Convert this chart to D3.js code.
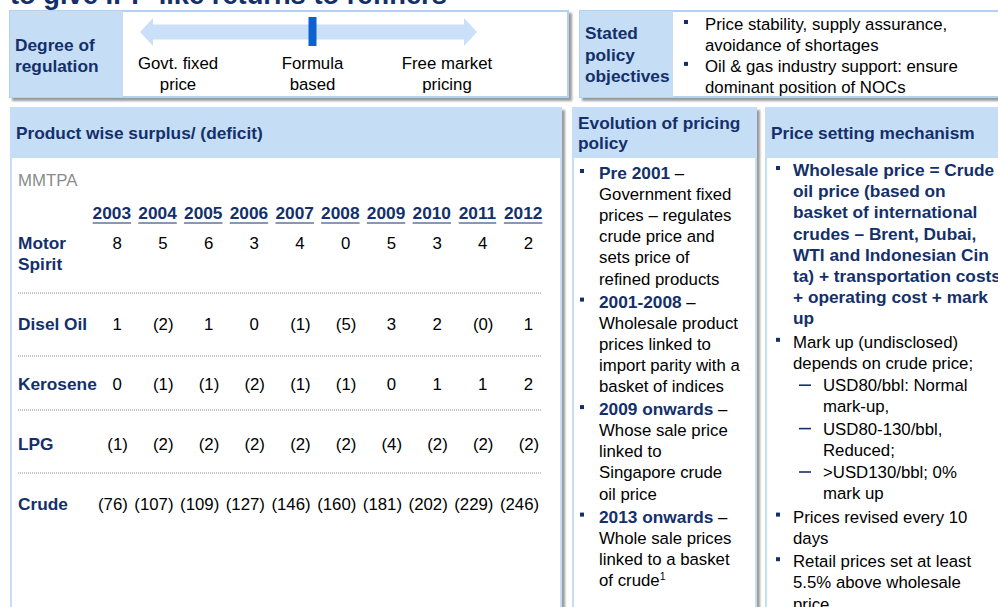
<!DOCTYPE html>
<html><head><meta charset="utf-8">
<script src="https://cdn.jsdelivr.net/npm/d3@7"></script>
<style>
body{margin:0;background:#fff;overflow:hidden;}
svg{display:block;font-family:Arial,"Liberation Sans",sans-serif;}
</style>
</head><body>
<svg id="c" width="998" height="607"></svg>
<script>
// ---------- data ----------
const titleText = "to give IPP-like returns to refiners";
const regulationLevels = [["Govt. fixed","price"],["Formula","based"],["Free market","pricing"]];
const currentLevel = 1;
const objectives = [["Price stability, supply assurance,","avoidance of shortages"],["Oil & gas industry support: ensure","dominant position of NOCs"]];
const unitLabel = "MMTPA";
const years = ["2003","2004","2005","2006","2007","2008","2009","2010","2011","2012"];
const products = [["Motor","Spirit"],["Disel Oil"],["Kerosene"],["LPG"],["Crude"]];
const motorSpirit = [8,5,6,3,4,0,5,3,4,2];
const diselOil    = [1,-2,1,0,-1,-5,3,2,-0,1];
const kerosene    = [0,-1,-1,-2,-1,-1,0,1,1,2];
const lpg         = [-1,-2,-2,-2,-2,-2,-4,-2,-2,-2];
const crude       = [-76,-107,-109,-127,-146,-160,-181,-202,-229,-246];
const series = [motorSpirit, diselOil, kerosene, lpg, crude];
const evolution = [
  {head:"Pre 2001", lines:["Government fixed","prices – regulates","crude price and","sets price of","refined products"]},
  {head:"2001-2008", lines:["Wholesale product","prices linked to","import parity with a","basket of indices"]},
  {head:"2009 onwards", lines:["Whose sale price","linked to","Singapore crude","oil price"]},
  {head:"2013 onwards", lines:["Whole sale prices","linked to a basket","of crude"], sup:"1"}
];
const mechanism = [
  {bold:true, lines:["Wholesale price = Crude","oil price (based on","basket of international","crudes – Brent, Dubai,","WTI and Indonesian Cin","ta) + transportation costs","+ operating cost + mark","up"]},
  {lines:["Mark up (undisclosed)","depends on crude price;"], subs:[["USD80/bbl: Normal","mark-up,"],["USD80-130/bbl,","Reduced;"],[">USD130/bbl; 0%","mark up"]]},
  {lines:["Prices revised every 10","days"]},
  {lines:["Retail prices set at least","5.5% above wholesale","price"]}
];

// ---------- style ----------
const NAVY = "#13306a", LB = "#c6ddf6", LBB = "#b3d1f1", FS = 16.8, FSB = 17.3;
const svg = d3.select("#c");
const defs = svg.append("defs");
const f = defs.append("filter").attr("id","sh").attr("x","-5%").attr("y","-5%").attr("width","115%").attr("height","115%");
f.append("feDropShadow").attr("dx",3).attr("dy",3).attr("stdDeviation",1.3).attr("flood-color","#7a7a7a").attr("flood-opacity",0.75);

// title (cut off at top)
const tt = svg.append("text").attr("x",10).attr("y",3.5).attr("fill",NAVY)
  .attr("font-weight","bold").attr("font-size",27).text(titleText);
const tw = tt.node().getComputedTextLength();
tt.attr("font-size", 27*437/tw);

function txt(g,x,y,s,opt={}){
  return g.append("text").attr("x",x).attr("y",y+6).attr("font-size",opt.fs||(opt.bold?FSB:FS))
    .attr("fill",opt.fill||"#000").attr("font-weight",opt.bold?"bold":"normal")
    .attr("text-anchor",opt.anchor||"start").text(s);
}
function bullet(g,x,y){ g.append("rect").attr("x",x).attr("y",y-4).attr("width",4).attr("height",4).attr("fill",NAVY); }

// ---------- panel 1: degree of regulation ----------
const p1 = svg.append("g");
p1.append("rect").attr("x",10).attr("y",11).attr("width",558).attr("height",86).attr("fill","#fff").attr("stroke",LBB).attr("stroke-width",2).attr("filter","url(#sh)");
p1.append("rect").attr("x",10).attr("y",11).attr("width",113).attr("height",86).attr("fill",LB);
txt(p1,15,45,"Degree of",{bold:true,fill:NAVY});
txt(p1,15,66,"regulation",{bold:true,fill:NAVY});
const rx = d3.scalePoint().domain(d3.range(regulationLevels.length)).range([178,447]);
const a0 = 140, a1 = 477, ay = 32, hl = 13, sh = 7.5, hh = 14;
const ap = d3.path();
ap.moveTo(a0,ay); ap.lineTo(a0+hl,ay-hh); ap.lineTo(a0+hl,ay-sh); ap.lineTo(a1-hl,ay-sh); ap.lineTo(a1-hl,ay-hh);
ap.lineTo(a1,ay); ap.lineTo(a1-hl,ay+hh); ap.lineTo(a1-hl,ay+sh); ap.lineTo(a0+hl,ay+sh); ap.lineTo(a0+hl,ay+hh); ap.closePath();
p1.append("path").attr("d",ap.toString()).attr("fill","#c9e0f8");
p1.append("rect").attr("x",rx(currentLevel)-4).attr("y",17).attr("width",8).attr("height",29).attr("fill","#0d60d0");
regulationLevels.forEach((ls,i)=>ls.forEach((l,j)=>txt(p1,rx(i),63+j*21,l,{anchor:"middle"})));

// ---------- panel 2: stated policy objectives ----------
const p2 = svg.append("g");
p2.append("rect").attr("x",580).attr("y",11).attr("width",440).attr("height",86).attr("fill","#fff").attr("stroke",LBB).attr("stroke-width",2).attr("filter","url(#sh)");
p2.append("rect").attr("x",580).attr("y",11).attr("width",93).attr("height",86).attr("fill",LB);
["Stated","policy","objectives"].forEach((l,i)=>txt(p2,585,33+i*21.5,l,{bold:true,fill:NAVY}));
let oy = 24;
objectives.forEach(ls=>{ bullet(p2,684,oy); ls.forEach(l=>{ txt(p2,705,oy,l); oy+=20.7; }); oy+=0.5; });

// ---------- column panels ----------
function colPanel(x,w,headLines){
  const g = svg.append("g");
  g.append("rect").attr("x",x).attr("y",107).attr("width",w).attr("height",530).attr("fill",LB).attr("filter","url(#sh)");
  g.append("rect").attr("x",x+2).attr("y",158).attr("width",w-4).attr("height",480).attr("fill","#fff");
  headLines.forEach((l,i)=>txt(g,x+6,(headLines.length===1?133:123)+i*20,l,{bold:true,fill:NAVY}));
  return g;
}

// ---------- panel 3: table ----------
const p3 = colPanel(10,552,["Product wise surplus/ (deficit)"]);
txt(p3,18,180,unitLabel,{fill:"#8c8c8c"});
const x = d3.scaleBand().domain(years).range([89,546]);
const xc = d => x(d)+x.bandwidth()/2;
const rowY = d3.scaleOrdinal().domain(d3.range(products.length)).range([243,324,384,444,504]);
const sepY = [293,356,410,473];
years.forEach(yv=>{
  const t = txt(p3,xc(yv),213,yv,{bold:true,fill:NAVY,anchor:"middle"});
  const w = t.node().getComputedTextLength();
  p3.append("line").attr("x1",xc(yv)-w/2).attr("x2",xc(yv)+w/2).attr("y1",223).attr("y2",223).attr("stroke",NAVY).attr("stroke-width",1.2);
});
const fmt = v => (v<0 || Object.is(v,-0)) ? "("+Math.abs(v)+")" : String(v);
products.forEach((ls,i)=>{
  ls.forEach((l,j)=>txt(p3,18,rowY(i)+j*21,l,{bold:true,fill:NAVY}));
  series[i].forEach((v,k)=>{
    const neg = v<0 || Object.is(v,-0);
    txt(p3,xc(years[k])+(neg?16:10),rowY(i),fmt(v),{anchor:"end"});
  });
});
sepY.forEach(y=>p3.append("line").attr("x1",18).attr("x2",541).attr("y1",y).attr("y2",y).attr("stroke","#8a8a8a").attr("stroke-width",1).attr("stroke-dasharray","1,1"));

// ---------- panel 4: evolution ----------
const p4 = colPanel(572,185,["Evolution of pricing","policy"]);
let ey = 173;
evolution.forEach(b=>{
  bullet(p4,580,ey);
  const t = txt(p4,599,ey,"",{});
  t.append("tspan").attr("font-weight","bold").attr("font-size",FSB).attr("fill",NAVY).text(b.head);
  t.append("tspan").text(" –");
  ey += 21.1;
  b.lines.forEach((l,i)=>{
    const t2 = txt(p4,599,ey,l);
    if(b.sup && i===b.lines.length-1) t2.append("tspan").attr("font-size",10.5).attr("dy",-6).text(b.sup);
    ey += 21.1;
  });
  ey += 2;
});

// ---------- panel 5: mechanism ----------
const p5 = colPanel(765,250,["Price setting mechanism"]);
let my = 170;
mechanism.forEach(b=>{
  bullet(p5,776,my);
  b.lines.forEach(l=>{ txt(p5,793,my,l,b.bold?{bold:true,fill:NAVY}:{}); my+=21.2; });
  if(b.subs) b.subs.forEach(s=>{
    my += 1;
    p5.append("line").attr("x1",799).attr("x2",811).attr("y1",my).attr("y2",my).attr("stroke",NAVY).attr("stroke-width",1.6);
    s.forEach(l=>{ txt(p5,823,my,l); my+=21.2; });
  });
  my += 2.2;
});
</script>
</body></html>
